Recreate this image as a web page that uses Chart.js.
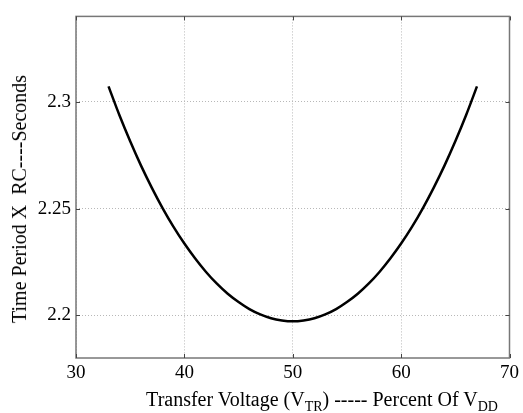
<!DOCTYPE html>
<html>
<head>
<meta charset="utf-8">
<script src="https://cdn.jsdelivr.net/npm/chart.js@4"></script>
<style>
  body { margin: 0; background: #fff; }
  #wrap { position: relative; width: 523px; height: 413px; }
  .ttl { position: absolute; font-family: "Liberation Serif", "Times New Roman", serif; font-size: 20px; line-height: 20px; color: #000; white-space: pre; }
  .ttl sub { font-size: 14px; vertical-align: baseline; position: relative; top: 5px; }
</style>
</head>
<body>
<div id="wrap">
  <canvas id="myChart" width="523" height="413"></canvas>
  <div class="ttl" id="xTitle" style="left:322px; top:389px; transform:translateX(-50%);">Transfer Voltage (V<sub>TR</sub>) ----- Percent Of V<sub>DD</sub></div>
  <div class="ttl" id="yTitle" style="left:19px; top:199px; transform:translate(-50%,-50%) rotate(-90deg);">Time Period X  RC----Seconds</div>
</div>
<script>
// transfer voltage, percent of VDD
const voltage = [33, 34, 35, 36, 37, 38, 39, 40, 41, 42, 43, 44, 45, 46, 47, 48, 49, 50,
                 51, 52, 53, 54, 55, 56, 57, 58, 59, 60, 61, 62, 63, 64, 65, 66, 67];
// time period / RC
const period = [2.3072, 2.2938, 2.2815, 2.2701, 2.2597, 2.2501, 2.2414, 2.2336, 2.2266, 2.2203,
                2.2148, 2.2101, 2.2062, 2.2029, 2.2004, 2.1986, 2.1976, 2.1972,
                2.1976, 2.1986, 2.2004, 2.2029, 2.2062, 2.2101, 2.2148, 2.2203, 2.2266,
                2.2336, 2.2414, 2.2501, 2.2597, 2.2701, 2.2815, 2.2938, 2.3072];
const xTicks = [30, 40, 50, 60, 70];
const yTicks = [2.2, 2.25, 2.3];
const yTickLabels = ['2.2', '2.25', '2.3'];

const serif = 'Liberation Serif';

// box round the plot and short inward tick marks, like the matlab axes
const frame = {
    id: 'frame',
    afterDraw(chart) {
        const ctx = chart.ctx;
        const a = chart.chartArea;
        const xs = chart.scales.x, ys = chart.scales.y;
        ctx.save();
        ctx.strokeStyle = '#777';
        ctx.lineWidth = 1.5;
        ctx.strokeRect(a.left, a.top, a.right - a.left, a.bottom - a.top);
        ctx.strokeStyle = '#444';
        ctx.lineWidth = 1;
        ctx.beginPath();
        yTicks.forEach(v => {
            const py = Math.round(ys.getPixelForValue(v)) + 0.5;
            ctx.moveTo(a.left, py); ctx.lineTo(a.left + 4, py);
            ctx.moveTo(a.right, py); ctx.lineTo(a.right - 4, py);
        });
        xTicks.forEach(v => {
            const px = Math.round(xs.getPixelForValue(v)) + 0.5;
            ctx.moveTo(px, a.bottom); ctx.lineTo(px, a.bottom - 4);
            ctx.moveTo(px, a.top); ctx.lineTo(px, a.top + 4);
        });
        ctx.stroke();
        ctx.restore();
    }
};

new Chart(document.getElementById('myChart'), {
    type: 'scatter',
    data: {
        datasets: [{
            data: voltage.map((v, i) => ({x: v, y: period[i]})),
            showLine: true,
            borderColor: '#000',
            borderWidth: 2.5,
            pointRadius: 0,
            tension: 0.3
        }]
    },
    options: {
        responsive: false,
        animation: false,
        layout: {padding: {left: 0, right: 9, top: 13, bottom: 0}},
        plugins: {legend: {display: false}, tooltip: {enabled: false}},
        scales: {
            x: {
                type: 'linear',
                min: 30,
                max: 70,
                afterBuildTicks: s => { s.ticks = xTicks.map(v => ({value: v})); },
                afterFit: s => { s.height = 55; },
                grid: {color: '#b8b8b8', lineWidth: 1, drawTicks: false},
                border: {display: false, dash: [1, 2]},
                ticks: {
                    padding: 4,
                    color: '#000',
                    font: {family: serif, size: 19},
                    maxRotation: 0
                }
            },
            y: {
                type: 'linear',
                min: 2.18,
                max: 2.34,
                afterBuildTicks: s => { s.ticks = yTicks.map(v => ({value: v})); },
                afterFit: s => { s.width = 76; },
                grid: {color: '#b8b8b8', lineWidth: 1, drawTicks: false},
                border: {display: false, dash: [1, 2]},
                ticks: {
                    padding: 5,
                    color: '#000',
                    font: {family: serif, size: 19},
                    callback: (v) => yTickLabels[yTicks.indexOf(v)] ?? ''
                }
            }
        }
    },
    plugins: [frame]
});
</script>
</body>
</html>
